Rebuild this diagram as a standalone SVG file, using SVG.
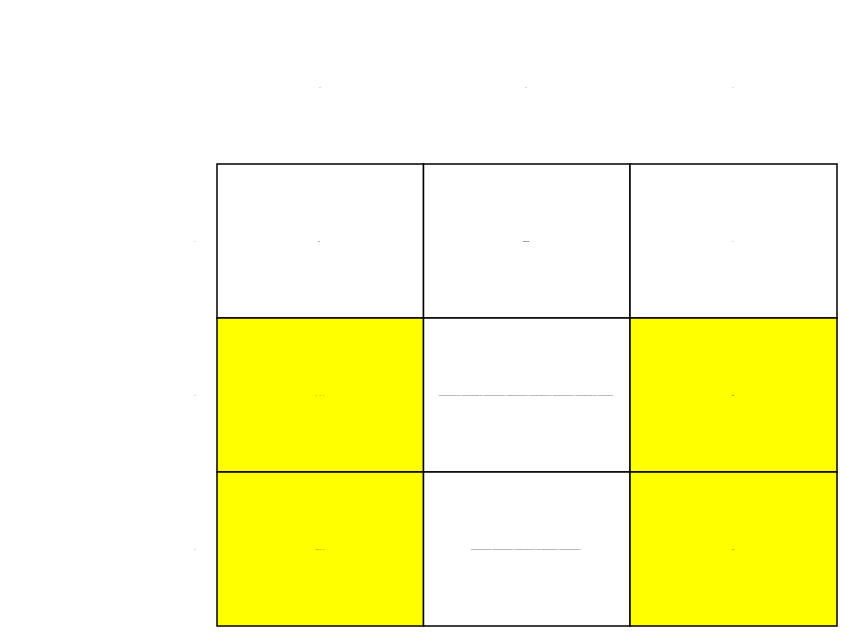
<svg xmlns="http://www.w3.org/2000/svg" width="846" height="636" viewBox="0 0 846 636">
<style>
.cell{stroke:#000;stroke-width:1.5}
.w{fill:#fff}
.y{fill:#ffff00}
text{font-family:"Liberation Sans",Arial,sans-serif;font-size:1.4px;fill:#000;text-anchor:middle;dominant-baseline:central}
</style>
<rect width="846" height="636" fill="#fff"/>
<g id="col-headers">
<text x="320" y="87">a</text>
<text x="526" y="87">b</text>
<text x="733" y="87">c</text>
</g>
<g id="row-headers">
<text x="195" y="241">1</text>
<text x="195" y="395">2</text>
<text x="195" y="549">3</text>
</g>
<g id="r1c1"><rect class="cell w" x="217" y="164" width="206.5" height="154"/><text x="319" y="241">ab</text></g>
<g id="r1c2"><rect class="cell w" x="423.5" y="164" width="206.5" height="154"/><text x="526" y="241" textLength="6" lengthAdjust="spacingAndGlyphs">abcd</text></g>
<g id="r1c3"><rect class="cell w" x="630" y="164" width="207" height="154"/><text x="733" y="241">a</text></g>
<g id="r2c1"><rect class="cell y" x="217" y="318" width="206.5" height="154"/><text x="320" y="395" textLength="8" lengthAdjust="spacing">a b c</text></g>
<g id="r2c2"><rect class="cell w" x="423.5" y="318" width="206.5" height="154"/><text x="526" y="395" textLength="174" lengthAdjust="spacing">abcdefghijklmnopqrstuvwxyz abcdefghijklmnopqrstuvwxyz abcdefghijklmnopqrstuvwxyz abcdefghijklmnopqrstuvwxyz abcdefghijklmnopqrstuvwxyz abcdefghijklmnopqrstuvwxyz abcdefghijklmnopqrstuvwxyz abcdefghijklmnopq</text></g>
<g id="r2c3"><rect class="cell y" x="630" y="318" width="207" height="154"/><text x="733" y="395">abc</text></g>
<g id="r3c1"><rect class="cell y" x="217" y="472" width="206.5" height="154"/><text x="320" y="549" textLength="9" lengthAdjust="spacing">abcd ef</text></g>
<g id="r3c2"><rect class="cell w" x="423.5" y="472" width="206.5" height="154"/><text x="526" y="549" textLength="110" lengthAdjust="spacing">abcdefghijklmnopqrstuvwxyz abcdefghijklmnopqrstuvwxyz abcdefghijklmnopqrstuvwxyz abcdefghijklmnopqrstuvwxyz abcdefghijklmnopqrstuvwxyz</text></g>
<g id="r3c3"><rect class="cell y" x="630" y="472" width="207" height="154"/><text x="733" y="549">ab</text></g>
<g id="connectors"></g>
</svg>
